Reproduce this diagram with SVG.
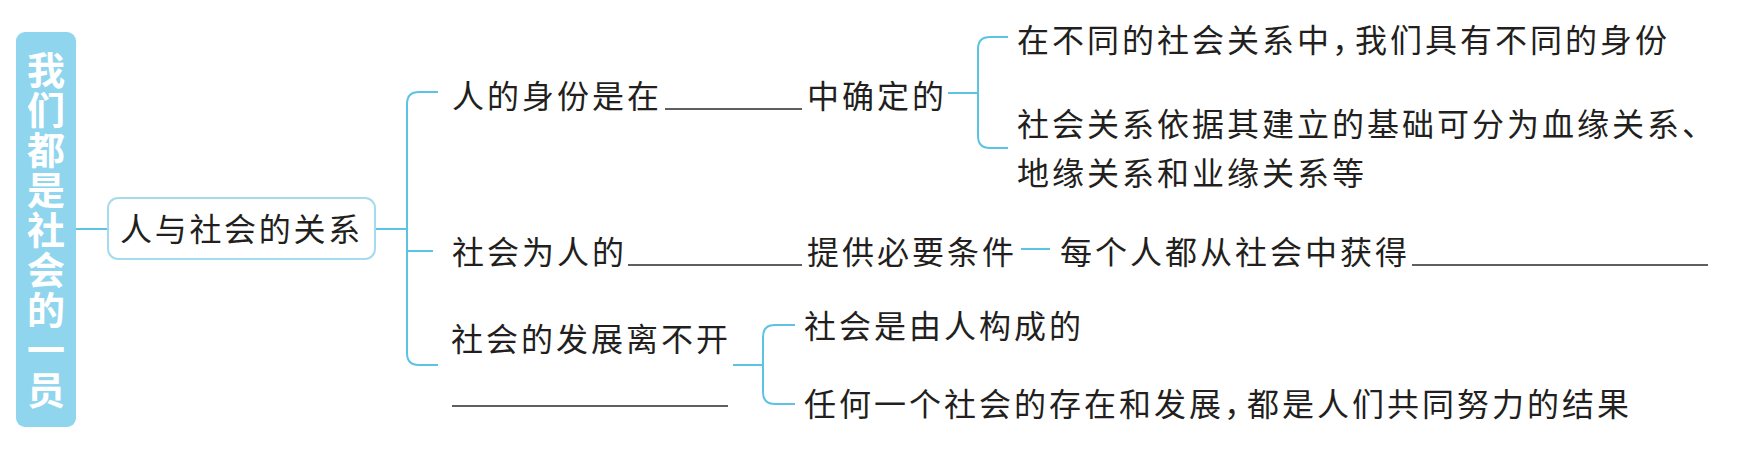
<svg xmlns="http://www.w3.org/2000/svg" width="1737" height="451" viewBox="0 0 1737 451">
<style>
.t{font-family:"Noto Sans CJK SC","Noto Sans CJK TC",sans-serif;font-size:32px;letter-spacing:3px;fill:#231f20;}
.c{fill:none;stroke:#5cc3e4;stroke-width:2;}
.u{stroke:#2a2a2a;stroke-width:1.6;}
.cm{letter-spacing:-9px;}
</style>
<rect width="1737" height="451" fill="#ffffff"/>
<g id="title">
<rect x="16" y="32" width="60" height="395" rx="9" fill="#8fd5ee"/>
<text x="46" y="51" writing-mode="vertical-rl" font-family="Noto Sans CJK SC, sans-serif" font-weight="bold" font-size="38" letter-spacing="2" fill="#ffffff">我们都是社会的一员</text>
</g>
<g id="connectors">
<path class="c" d="M76,229 H108"/>
<path class="c" d="M375,229 H407"/>
<path class="c" d="M438,92 H419 Q407,92 407,104 V353 Q407,365 419,365 H438"/>
<path class="c" d="M407,251 H433"/>
<path class="c" d="M948,93 H978"/>
<path class="c" d="M1008,37 H990 Q978,37 978,49 V136 Q978,148 990,148 H1008"/>
<path class="c" d="M1021,249 H1050"/>
<path class="c" d="M733,365 H763"/>
<path class="c" d="M795,325 H775 Q763,325 763,337 V392 Q763,404 775,404 H795"/>
</g>
<g id="node-relation">
<rect x="108" y="198" width="267" height="61" rx="10" fill="#ffffff" stroke="#a5dbee" stroke-width="2"/>
<text class="t" x="120" y="241" style="font-size:32px;letter-spacing:2.7px">人与社会的关系</text>
</g>
<g id="node-identity">
<text class="t" x="452" y="108">人的身份是在</text>
<line class="u" x1="665" y1="109" x2="802" y2="109"/>
<text class="t" x="807" y="108">中确定的</text>
</g>
<g id="leaf-identity-1">
<text class="t" x="1017" y="52">在不同的社会关系中<tspan class="cm">，</tspan>我们具有不同的身份</text>
</g>
<g id="leaf-identity-2">
<text class="t" x="1017" y="136">社会关系依据其建立的基础可分为血缘关系、</text>
<text class="t" x="1017" y="185">地缘关系和业缘关系等</text>
</g>
<g id="node-society-provides">
<text class="t" x="452" y="264">社会为人的</text>
<line class="u" x1="628" y1="265" x2="802" y2="265"/>
<text class="t" x="807" y="264">提供必要条件</text>
</g>
<g id="leaf-provides">
<text class="t" x="1060" y="264">每个人都从社会中获得</text>
<line class="u" x1="1412" y1="265" x2="1708" y2="265"/>
</g>
<g id="node-development">
<text class="t" x="451" y="351">社会的发展离不开</text>
<line class="u" x1="452" y1="406" x2="728" y2="406"/>
</g>
<g id="leaf-development-1">
<text class="t" x="804" y="338">社会是由人构成的</text>
</g>
<g id="leaf-development-2">
<text class="t" x="804" y="416">任何一个社会的存在和发展<tspan class="cm">，</tspan>都是人们共同努力的结果</text>
</g>
</svg>
